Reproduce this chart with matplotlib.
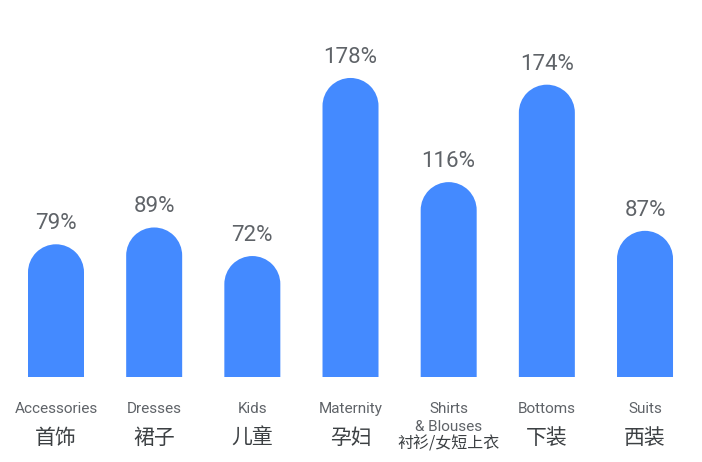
import matplotlib
matplotlib.use("Agg")
import matplotlib.pyplot as plt
from matplotlib.patches import PathPatch
from matplotlib.path import Path
import numpy as np

categories_en = ["Accessories", "Dresses", "Kids", "Maternity", "Shirts\n& Blouses", "Bottoms", "Suits"]
categories_zh = ["首饰", "裙子", "儿童", "孕妇", "衬衫/女短上衣", "下装", "西装"]
values = [79, 89, 72, 178, 116, 174, 87]
labels = ["79%", "89%", "72%", "178%", "116%", "174%", "87%"]

BAR_COLOR = "#448AFF"
TEXT_GRAY = "#5f6368"
TEXT_DARK = "#3c4043"

W, H, DPI = 702, 462, 100
fig = plt.figure(figsize=(W / DPI, H / DPI), dpi=DPI)
ax = fig.add_axes([0, 0, 1, 1])
ax.set_axis_off()

# layout in pixels
x0_px, step_px = 56.0, 98.17
base_px, px_per_unit = 85.0, 1.68
bar_w_px = 56.0

ax.set_xlim(-x0_px / step_px, (W - x0_px) / step_px)
ax.set_ylim(-base_px / px_per_unit, (H - base_px) / px_per_unit)

bw = bar_w_px / step_px
ry = (bar_w_px / 2) / px_per_unit

arc = Path.arc(0, 180)
for i, v in enumerate(values):
    left, right = i - bw / 2, i + bw / 2
    cy = v - ry
    arc_verts = np.column_stack([i + (bw / 2) * arc.vertices[:, 0],
                                 cy + ry * arc.vertices[:, 1]])
    verts = [(left, 0), (right, 0), (right, cy)] + [tuple(p) for p in arc_verts[1:]] + [(left, 0), (left, 0)]
    codes = [Path.MOVETO, Path.LINETO, Path.LINETO] + list(arc.codes[1:]) + [Path.LINETO, Path.CLOSEPOLY]
    ax.add_patch(PathPatch(Path(verts, codes), facecolor=BAR_COLOR, edgecolor="none"))
    ax.annotate(labels[i], (i, v), xytext=(0, 15), textcoords="offset pixels",
                ha="center", va="baseline", fontsize=16, color=TEXT_GRAY,
                family=["Roboto", "DejaVu Sans"])

tr = ax.get_xaxis_transform()
en_font = dict(ha="center", va="center", fontsize=11, color=TEXT_GRAY,
               family=["Roboto", "DejaVu Sans"])
for i, (en, zh) in enumerate(zip(categories_en, categories_zh)):
    if "\n" in en:
        l1, l2 = en.split("\n")
        ax.text(i, 1 - 409 / H, l1, transform=tr, **en_font)
        ax.text(i, 1 - 427 / H, l2, transform=tr, **en_font)
        ax.text(i, 1 - 444 / H, zh, transform=tr, ha="center", va="center",
                fontsize=11.5, color=TEXT_DARK, family=["Noto Sans CJK SC", "DejaVu Sans"])
    else:
        ax.text(i, 1 - 409 / H, en, transform=tr, **en_font)
        ax.text(i, 1 - 438 / H, zh, transform=tr, ha="center", va="center",
                fontsize=15, color=TEXT_DARK, family=["Noto Sans CJK SC", "DejaVu Sans"])

fig.savefig("out.png", dpi=DPI)
